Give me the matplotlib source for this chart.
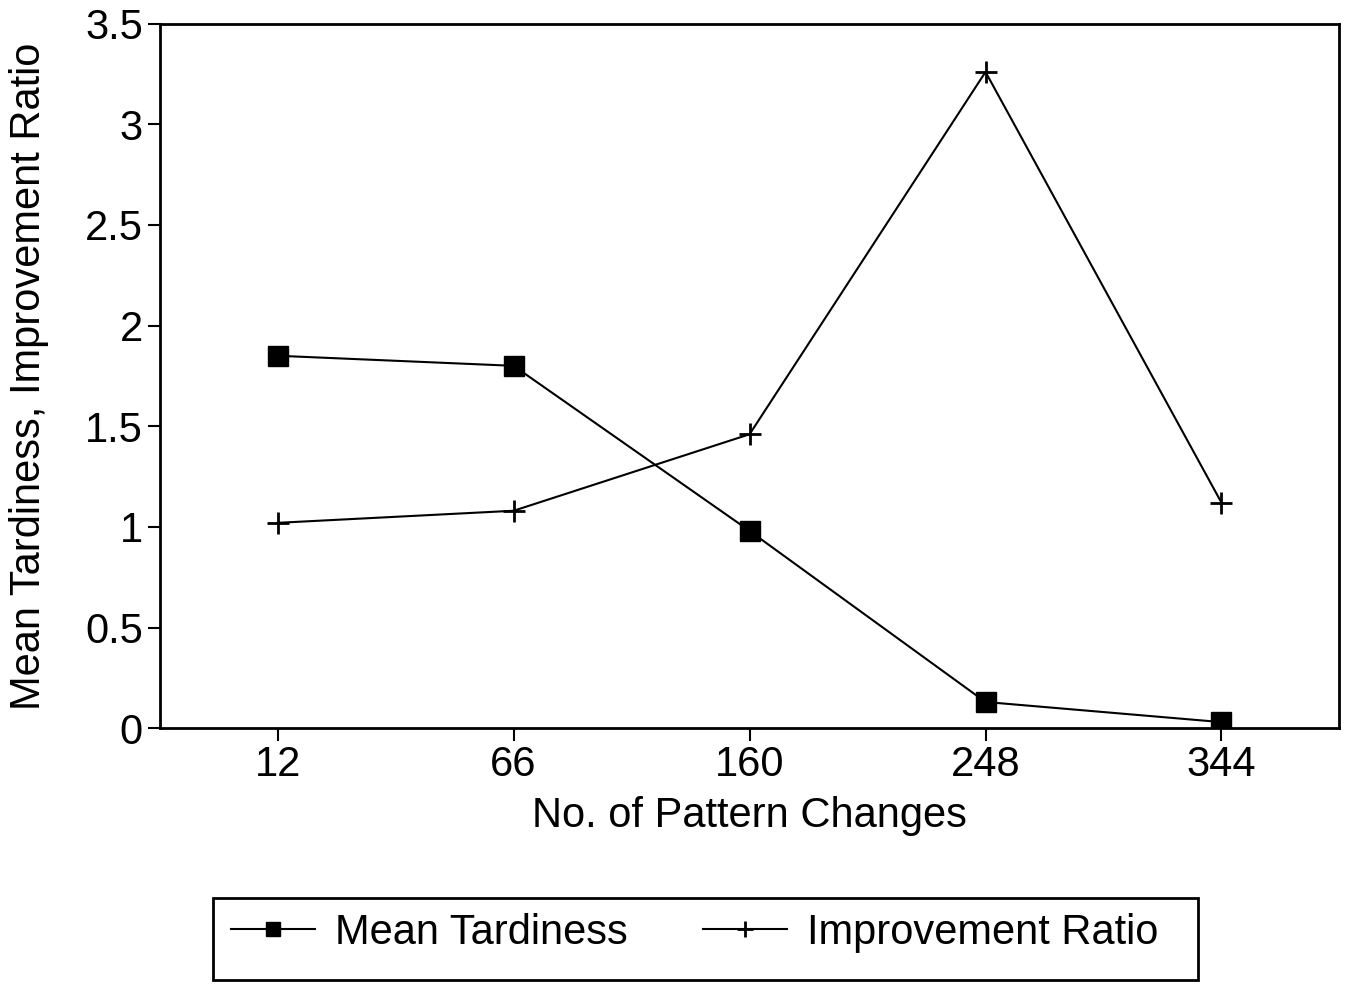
import matplotlib.pyplot as plt
from matplotlib.patches import Rectangle

# values
changes = ['12', '66', '160', '248', '344']
mean_tardiness = [1.85, 1.80, 0.98, 0.13, 0.03]
improvement_ratio = [1.02, 1.08, 1.46, 3.26, 1.12]

plt.rcParams['font.family'] = ['Liberation Sans', 'DejaVu Sans']

fig = plt.figure(figsize=(13.53, 9.84), dpi=100)
ax = fig.add_axes([0.118, 0.260, 0.872, 0.716])

x = range(len(changes))
ax.plot(x, mean_tardiness, color='black', linewidth=1.5, marker='s',
        markersize=15, label='Mean Tardiness')
ax.plot(x, improvement_ratio, color='black', linewidth=1.5, marker='+',
        markersize=16, markeredgewidth=2, label='Improvement Ratio')

ax.set_xlim(-0.5, 4.5)
ax.set_ylim(0, 3.5)
ax.set_xticks(list(x))
ax.set_xticklabels(changes)
ax.set_yticks([0, 0.5, 1, 1.5, 2, 2.5, 3, 3.5])
ax.set_yticklabels(['0', '0.5', '1', '1.5', '2', '2.5', '3', '3.5'])
ax.tick_params(labelsize=30, length=9, width=1.5, direction='out', pad=3)
for s in ax.spines.values():
    s.set_linewidth(2)

ax.set_xlabel('No. of Pattern Changes', fontsize=30, labelpad=8)
ax.set_ylabel('Mean Tardiness, Improvement Ratio', fontsize=30)
ax.yaxis.set_label_coords(-0.094, 0.5)

# legend box below the plot
fig.patches.append(Rectangle((213/1353, 1 - 980/984), (1198 - 213)/1353, (980 - 898)/984,
                             transform=fig.transFigure, fill=False,
                             edgecolor='black', linewidth=2))
fig.legend(loc='center', bbox_to_anchor=(695/1353, 1 - 933/984), ncol=2,
           frameon=False, fontsize=30, handlelength=2.0, handletextpad=0.5,
           columnspacing=1.8, markerscale=0.7)

plt.savefig('out.png', dpi=100)
